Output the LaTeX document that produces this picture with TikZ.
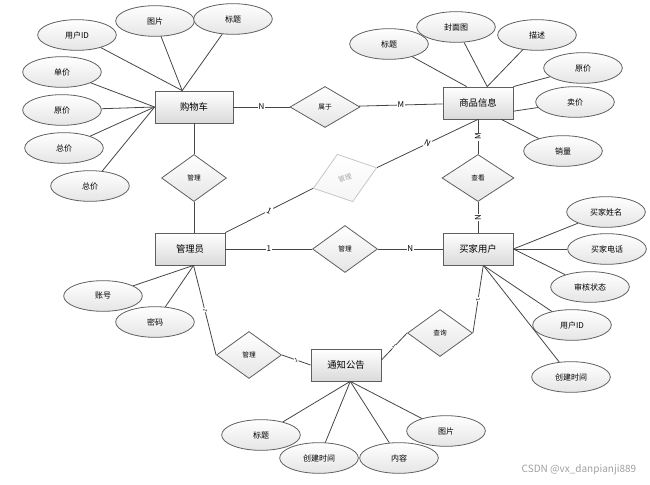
\documentclass[tikz,border=0pt]{standalone}
\usepackage{fontspec}
\setmainfont{Noto Sans CJK SC}
\usetikzlibrary{shapes.geometric,calc}

\definecolor{edgegray}{RGB}{70,70,70}
\definecolor{boxgray}{RGB}{95,95,95}
\definecolor{shadegray}{RGB}{218,218,218}

\tikzset{every picture/.style={line width=0.6pt}}
\tikzset{
  entity/.style={draw=boxgray, top color=white, bottom color=shadegray, minimum width=52.5pt, minimum height=24pt, inner sep=0pt, font=\fontsize{7}{8}\selectfont},
  attr/.style={ellipse, draw=boxgray, top color=white, bottom color=shadegray!70, minimum width=59pt, minimum height=23pt, inner sep=0pt, font=\fontsize{6}{7}\selectfont},
  relation/.style={diamond, draw=boxgray, top color=white, bottom color=shadegray!70, minimum width=48.75pt, minimum height=35.25pt, inner sep=0pt, font=\fontsize{5}{6}\selectfont},
  card/.style={fill=white, inner sep=0.6pt, font=\fontsize{6}{6}\selectfont},
  tick/.style={fill=white, inner sep=0.3pt, sloped, font=\fontsize{4}{4}\selectfont},
  link/.style={draw=edgegray}
}

\begin{document}
\begin{tikzpicture}[x=0.75pt,y=0.75pt,yscale=-1,xscale=1]
\useasboundingbox (0,0) rectangle (650,485);

%Shape: Rectangle
\node[entity, minimum width=58.5pt] (cart) at (194,107) {购物车};
\node[entity] (goods) at (478,103) {商品信息};
\node[entity] (admin) at (190,249) {管理员};
\node[entity] (buyer) at (478,249) {买家用户};
\node[entity] (notice) at (346,365) {通知公告};

%Shape: Diamond
\node[relation, minimum width=52.5pt, minimum height=30.75pt] (belong) at (325,107) {属于};
\node[relation] (cartMgr) at (194,178) {管理};
\node[relation, draw=gray!45, text=gray!70, top color=white, bottom color=gray!8, minimum width=50pt, minimum height=37.5pt, rotate=18] (goodsMgr) at (345,178) {管理};
\node[relation, minimum width=54pt] (view) at (478,178) {查看};
\node[relation] (buyerMgr) at (345,249) {管理};
\node[relation] (noticeMgr) at (249,355) {管理};
\node[relation] (query) at (440,333) {查询};

%Shape: Ellipse
\node[attr] (cartUid) at (77,35) {用户ID};
\node[attr] (cartPic) at (155,21) {图片};
\node[attr] (cartTitle) at (233,19) {标题};
\node[attr] (cartUnit) at (62,72) {单价};
\node[attr] (cartOrig) at (62,110) {原价};
\node[attr] (cartTotal) at (64,148) {总价};
\node[attr] (cartSum) at (90,186) {总价};

\node[attr] (goodsTitle) at (389,44) {标题};
\node[attr] (goodsCover) at (456,27) {封面图};
\node[attr] (goodsDesc) at (537,35) {描述};
\node[attr] (goodsOrig) at (583,68) {原价};
\node[attr] (goodsPrice) at (575,102) {卖价};
\node[attr] (goodsSales) at (563,151) {销量};

\node[attr] (adminAcct) at (103,296) {账号};
\node[attr] (adminPwd) at (155,322) {密码};

\node[attr] (buyerName) at (606,212) {买家姓名};
\node[attr] (buyerTel) at (607,249) {买家电话};
\node[attr] (buyerAudit) at (590,287) {审核状态};
\node[attr] (buyerUid) at (572,325) {用户ID};
\node[attr] (buyerTime) at (571,377) {创建时间};

\node[attr] (noticeTitle) at (261,435) {标题};
\node[attr] (noticeTime) at (319,458) {创建时间};
\node[attr] (noticeBody) at (399,458) {内容};
\node[attr] (noticePic) at (446,431) {图片};

%Feet
\coordinate (cartTop) at ($(cart.north west)!0.35!(cart.north east)$);
\coordinate (goodsTopL) at ($(goods.north west)!0.34!(goods.north east)$);
\coordinate (goodsTopR) at ($(goods.north west)!0.63!(goods.north east)$);
\coordinate (goodsSide) at ($(goods.east)!0.5!(goods.south east)$);
\coordinate (goodsFoot) at ($(goods.south east)!0.17!(goods.south west)$);
\coordinate (adminFoot) at ($(admin.south)!0.1!(admin.south east)$);
\coordinate (buyerFoot) at ($(buyer.south)!0.15!(buyer.south east)$);
\coordinate (noticeFoot) at ($(notice.south)!0.12!(notice.south east)$);
\coordinate (noticeSide) at ($(notice.east)!0.3!(notice.north east)$);

%Straight Lines
\foreach \a in {cartUid,cartPic,cartTitle} \draw[link] (\a) -- (cartTop);
\foreach \a in {cartUnit,cartOrig,cartTotal,cartSum} \draw[link] (\a) -- (cart.west);
\draw[link] (goodsTitle) -- (goodsTopL);
\draw[link] (goodsCover) -- (goodsTopR);
\draw[link] (goodsDesc) -- (goodsTopR);
\draw[link] (goodsOrig) -- (goods.north east);
\draw[link] (goodsPrice) -- (goodsSide);
\draw[link] (goodsSales) -- (goodsFoot);
\foreach \a in {adminAcct,adminPwd} \draw[link] (\a) -- (adminFoot);
\foreach \a in {buyerName,buyerTel,buyerAudit} \draw[link] (\a) -- (buyer.east);
\foreach \a in {buyerUid,buyerTime} \draw[link] (\a) -- (buyerFoot);
\foreach \a in {noticeTitle,noticeTime,noticeBody,noticePic} \draw[link] (\a) -- (noticeFoot);

\draw[link] (cart) -- node[card] {N} (belong);
\draw[link] (belong) -- node[card] {M} (goods);
\draw[link] (cart) -- (cartMgr);
\draw[link] (cartMgr) -- (cartMgr |- admin.north);
\draw[link] (admin.north east) -- node[card, sloped] {1} (goodsMgr.west);
\draw[link] (goodsMgr.east) -- node[card, sloped] {N} (goods.south);
\draw[link] (goods) -- node[card, sloped] {M} (view);
\draw[link] (view) -- node[card, sloped] {N} (buyer);
\draw[link] (admin) -- node[card] {1} (buyerMgr);
\draw[link] (buyerMgr) -- node[card] {N} (buyer);
\draw[link] (adminFoot) -- node[tick] {1} (noticeMgr.west);
\draw[link] (noticeMgr.east) -- node[tick] {1} (notice.west);
\draw[link] (noticeSide) -- node[tick] {1} (query.west);
\draw[link] (query.east) -- node[tick] {1} (buyerFoot);

% Text Node
\node[anchor=east, text=gray!75, font=\fontsize{7.5}{8}\selectfont] (mark) at (641,470) {CSDN @vx\_danpianji889};

\end{tikzpicture}
\end{document}
